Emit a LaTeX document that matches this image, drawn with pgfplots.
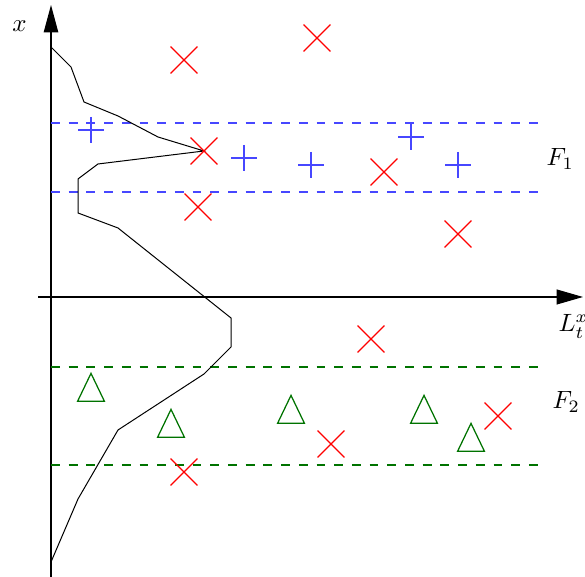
\documentclass[border=0pt]{standalone}
\usepackage{pgfplots}
\pgfplotsset{compat=1.18}
\usetikzlibrary{arrows.meta}
\definecolor{myblue}{rgb}{0.28,0.28,1}
\definecolor{mygreen}{rgb}{0,0.45,0}
\begin{document}
\begin{tikzpicture}
\begin{axis}[
  x=0.4pt, y=0.4pt,
  xmin=-51, xmax=534, ymin=-280, ymax=297,
  hide axis, clip=false,
]
% axes
\draw[black, line width=0.45pt, -{Triangle[length=11pt,width=5.8pt]}] (axis cs:0,-280) -- (axis cs:0,292);
\draw[black, line width=0.45pt, -{Triangle[length=10.6pt,width=6pt]}] (axis cs:-13,0) -- (axis cs:532,0);
% dashed bands
\addplot[myblue, line width=0.6pt, dash pattern=on 3.54pt off 3.54pt, no marks] coordinates {(0,174) (487,174)};
\addplot[myblue, line width=0.6pt, dash pattern=on 3.54pt off 3.54pt, no marks] coordinates {(0,105) (487,105)};
\addplot[mygreen, line width=0.6pt, dash pattern=on 3.54pt off 3.54pt, no marks] coordinates {(0,-70) (487,-70)};
\addplot[mygreen, line width=0.6pt, dash pattern=on 3.54pt off 3.54pt, no marks] coordinates {(0,-168) (487,-168)};
% density curve
\addplot[black, line width=0.4pt, no marks] coordinates {
 (0,250) (20,230) (33,195) (67,181) (107,160) (153,146) (104,140) (47,133)
 (27,118) (27,84) (67,69) (180,-21) (180,-50) (153,-77) (67,-133) (27,-202) (0,-265)};
% red crosses
\addplot[only marks, red, mark=x, mark size=7.6pt, mark options={line width=0.5pt}] coordinates {
 (133,237) (266,259) (153,146) (147,90) (333,125) (407,63)
 (320,-42) (447,-119) (280,-147) (133,-175)};
% blue plus
\addplot[only marks, myblue, mark=+, mark size=5.2pt, mark options={line width=0.5pt}] coordinates {
 (40,167) (193,139) (260,132) (360,160) (407,132)};
% green triangles
\addplot[only marks, mygreen, mark=triangle, mark size=6.2pt, mark options={yscale=1.2, line width=0.5pt}] coordinates {
 (40,-95) (120,-131) (240,-117) (373,-117) (420,-145)};
% labels
\node at (axis cs:-31.5,270.5) {$x$};
\node[anchor=base west, inner sep=0pt] at (axis cs:495,131) {$F_1$};
\node[anchor=base west, inner sep=0pt] at (axis cs:501,-112) {$F_2$};
\node[anchor=base west, inner sep=0pt] at (axis cs:507,-35) {$L_t^x$};
\coordinate (bl) at (axis cs:-51,-280);
\coordinate (tr) at (axis cs:534,297);
\end{axis}
\pgfresetboundingbox
\useasboundingbox (bl) rectangle (tr);
\end{tikzpicture}
\end{document}
